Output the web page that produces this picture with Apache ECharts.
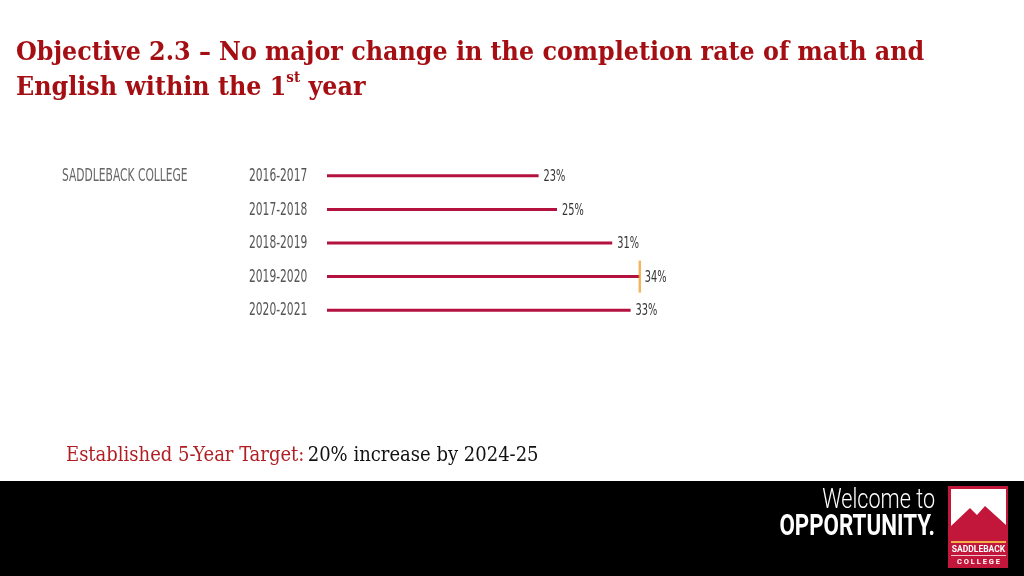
<!DOCTYPE html>
<html><head><meta charset="utf-8">
<script src="https://cdn.jsdelivr.net/npm/echarts@6/dist/echarts.min.js"></script>
<style>html,body{margin:0;padding:0;background:#fff}#c{width:1024px;height:576px}</style>
</head><body><div id="c"></div>
<script>
const years = ['2016-2017','2017-2018','2018-2019','2019-2020','2020-2021'];
const rates = [23, 25, 31, 34, 33];
const highlightYear = '2019-2020';
const highlightValue = 34;
const groupLabel = 'SADDLEBACK COLLEGE';

const chart = echarts.init(document.getElementById('c'));
const cond = '"DejaVu Sans",sans-serif';
const serif = '"DejaVu Serif",serif';

function renderLabels(params, api) {
  const v = api.value(0);
  const idx = api.value(1);
  const base = api.coord([0, idx]);
  const end = api.coord([v, idx]);
  return {
    type: 'group',
    children: [
      {type: 'text', x: base[0] - 78, y: base[1] + 0.5, scaleX: 0.66,
       style: {text: years[idx], align: 'left', verticalAlign: 'middle', fontFamily: cond, fontWeight: 'normal condensed', fontSize: 18, fill: '#555'}},
      {type: 'text', x: end[0] + 5, y: end[1] + 1, scaleX: 0.68,
       style: {text: v + '%', align: 'left', verticalAlign: 'middle', fontFamily: cond, fontWeight: 'normal condensed', fontSize: 16, fill: '#333'}}
    ]
  };
}

chart.setOption({
  animation: false,
  backgroundColor: '#fff',
  title: {
    left: 16, top: 36, padding: 0,
    text: '{a|Objective 2.3 – No major change in the completion rate of math and}\n{a|English within the 1}{s|st}{a| year}',
    textStyle: {
      rich: {
        a: {fontFamily: serif, fontWeight: 'bold condensed', fontSize: 26.5, color: '#a50f14', lineHeight: 35},
        s: {fontFamily: serif, fontWeight: 'bold condensed', fontSize: 15, color: '#a50f14', verticalAlign: 'top', lineHeight: 35, padding:[0,0,14,0]}
      }
    }
  },
  grid: {left: 327, top: 159, width: 460, height: 168},
  xAxis: {type: 'value', min: 0, max: 50, show: false},
  yAxis: {
    type: 'category', data: years, inverse: true,
    axisLine: {show: false}, axisTick: {show: false}, axisLabel: {show: false}
  },
  series: [{
    type: 'bar', data: rates, barWidth: 3,
    itemStyle: {color: '#b3123f'}
  }, {
    type: 'scatter', data: [[highlightValue, highlightYear]],
    symbol: 'rect', symbolSize: [2.5, 32], itemStyle: {color: '#f0a23a'}, z: 5
  }, {
    type: 'custom', renderItem: renderLabels,
    data: rates.map((v, i) => [v, i]), encode: {x: 0, y: 1}, z: 6
  }],
  graphic: [
    {type: 'text', x: 62, y: 177, scaleX: 0.7, style: {text: groupLabel, verticalAlign: 'middle', fontFamily: cond, fontWeight: 'normal condensed', fontSize: 17, fill: '#666'}},
    {type: 'text', left: 66, top: 446, style: {
      text: '{r|Established 5-Year Target:} {k|20% increase by 2024-25}',
      rich: {
        r: {fontFamily: serif, fontWeight: 'normal condensed', fontSize: 20, fill: '#b01e23'},
        k: {fontFamily: serif, fontWeight: 'normal condensed', fontSize: 20, fill: '#111'}
      }
    }},
    {type: 'rect', shape: {x: 0, y: 481, width: 1024, height: 95}, style: {fill: '#000'}},
    {type: 'text', x: 935, y: 488, scaleX: 0.8, style: {text: 'Welcome to', align: 'right', fontFamily: 'Roboto,sans-serif', fontWeight: 300, fontSize: 27, fill: '#fff'}},
    {type: 'text', x: 935, y: 513, scaleX: 0.77, style: {text: 'OPPORTUNITY.', align: 'right', fontFamily: 'Roboto,sans-serif', fontWeight: 'bold', fontSize: 29, fill: '#fff'}},
    {type: 'rect', shape: {x: 948, y: 486, width: 60, height: 82}, style: {fill: '#c2173b'}},
    {type: 'polygon', shape: {points: [[951,489],[1006,489],[1006,525],[985,506],[977,515],[970,508],[951,526]]}, style: {fill: '#fff'}},
    {type: 'rect', shape: {x: 951, y: 541, width: 55, height: 2}, style: {fill: '#f2b04a'}},
    {type: 'text', x: 978.5, y: 550, style: {text: 'SADDLEBACK', align: 'center', verticalAlign: 'middle', fontFamily: 'Roboto,sans-serif', fontWeight: 'bold', fontSize: 8.5, fill: '#fff'}},
    {type: 'rect', shape: {x: 951, y: 555, width: 55, height: 0.8}, style: {fill: '#fff'}},
    {type: 'text', x: 978.5, y: 562, style: {text: 'C O L L E G E', align: 'center', verticalAlign: 'middle', fontFamily: 'Roboto,sans-serif', fontWeight: 'bold', fontSize: 7.5, fill: '#fff'}}
  ]
});
</script></body></html>
